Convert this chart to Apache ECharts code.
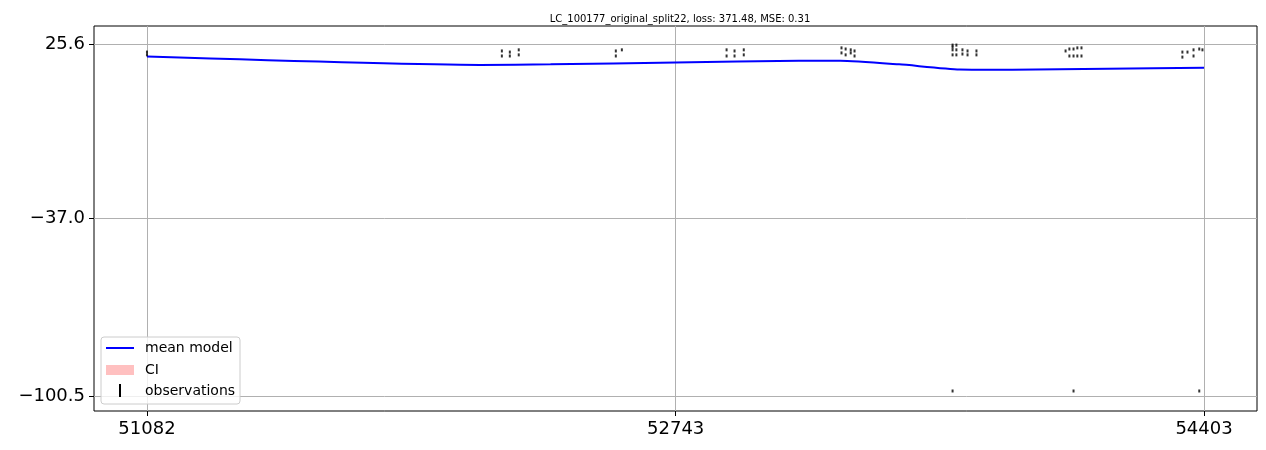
<!DOCTYPE html>
<html>
<head>
<meta charset="utf-8">
<script src="https://cdn.jsdelivr.net/npm/echarts@6/dist/echarts.min.js"></script>
<style>
  html, body { margin: 0; padding: 0; background: #fff; }
  #chart { width: 1266px; height: 450px; }
</style>
</head>
<body>
<div id="chart"></div>
<script>
// mean model curve
const meanX = [51082, 52128, 52350, 52743, 53130, 53260, 53445, 53635, 53800, 54100, 54403]
const meanY = [21.1, 18.1, 18.3, 19.0, 19.6, 19.6, 18.3, 16.5, 16.4, 16.7, 17.1]
// confidence band (very narrow)
const ciLow = [20.8, 17.8, 18.0, 18.7, 19.3, 19.3, 18.0, 16.2, 16.1, 16.4, 16.8]
const ciHigh = [21.4, 18.4, 18.6, 19.3, 19.9, 19.9, 18.6, 16.8, 16.7, 17.0, 17.4]

// observations
const obsX = [51082, 51082,
  52197, 52197, 52222, 52222, 52250, 52250,
  52555, 52555, 52574,
  52903, 52903, 52928, 52928, 52957, 52957,
  53264, 53264, 53277, 53277, 53293, 53293, 53305, 53305,
  53613, 53613, 53613, 53613, 53625, 53625, 53625, 53644, 53644, 53660, 53660, 53688, 53688,
  53968, 53980, 53980, 53993, 53993, 54005, 54005, 54018, 54018,
  54335, 54335, 54351, 54370, 54370, 54388, 54398,
  53613, 53993, 54388]
const obsY = [22.7, 21.7,
  23.1, 21.3, 22.7, 21.3, 23.5, 21.7,
  23.1, 21.3, 23.5,
  23.5, 21.3, 23.1, 21.3, 23.5, 21.7,
  24.2, 22.4, 23.8, 21.7, 23.5, 22.4, 23.1, 21.3,
  25.2, 24.5, 23.5, 21.7, 25.2, 23.5, 21.7, 23.5, 22.0, 23.1, 21.7, 23.1, 21.7,
  23.1, 23.8, 21.3, 23.8, 21.3, 24.2, 21.3, 24.2, 21.3,
  22.7, 20.9, 22.7, 23.5, 21.3, 23.8, 23.5,
  -98.7, -98.7, -98.7]

// axis ticks
const xTicks = [51082, 52743, 54403]
const yTicks = [25.6, -37.0, -100.5]

const title = 'LC_100177_original_split22, loss: 371.48, MSE: 0.31'

const chart = echarts.init(document.getElementById('chart'))

const zip = (a, b) => a.map((v, i) => [v, b[i]])
const fmtY = v => {
  const s = Math.abs(v).toFixed(1)
  return v < 0 ? '\u2212' + s : s
}

const option = {
  animation: false,
  textStyle: { fontFamily: 'DejaVu Sans' },
  title: {
    text: title,
    left: 675,
    top: 9,
    textAlign: 'center',
    textStyle: { fontSize: 10, fontWeight: 'normal', color: '#000', fontFamily: 'DejaVu Sans' }
  },
  grid: {
    left: 94,
    right: 9,
    top: 26,
    bottom: 39,
    show: true,
    borderColor: '#000',
    borderWidth: 1
  },
  xAxis: {
    type: 'value',
    min: 50915.6,
    max: 54569.4,
    axisLine: { show: false, onZero: false },
    axisTick: { show: true, customValues: xTicks, length: 5, lineStyle: { color: '#000' } },
    axisLabel: {
      customValues: xTicks,
      formatter: v => String(v),
      color: '#000',
      fontSize: 18,
      margin: 9,
      fontFamily: 'DejaVu Sans'
    },
    splitLine: { show: true, lineStyle: { color: '#b0b0b0', width: 1 } }
  },
  yAxis: {
    type: 'value',
    min: -105.87,
    max: 32.04,
    axisLine: { show: false, onZero: false },
    axisTick: { show: true, customValues: yTicks, length: 5, lineStyle: { color: '#000' } },
    axisLabel: {
      customValues: yTicks,
      formatter: fmtY,
      color: '#000',
      fontSize: 18,
      margin: 9,
      fontFamily: 'DejaVu Sans'
    },
    splitLine: { show: true, lineStyle: { color: '#b0b0b0', width: 1 } }
  },
  series: [
    {
      name: 'ci-base',
      type: 'line',
      data: zip(meanX, ciLow),
      stack: 'ci',
      symbol: 'none',
      smooth: 0.2,
      lineStyle: { opacity: 0 },
      silent: true
    },
    {
      name: 'CI',
      type: 'line',
      data: zip(meanX, ciHigh.map((v, i) => v - ciLow[i])),
      stack: 'ci',
      symbol: 'none',
      smooth: 0.2,
      lineStyle: { opacity: 0 },
      areaStyle: { color: 'rgba(255,150,150,0.6)' },
      silent: true
    },
    {
      name: 'mean model',
      type: 'line',
      data: zip(meanX, meanY),
      symbol: 'none',
      smooth: 0.2,
      lineStyle: { color: '#0000ff', width: 2 },
      z: 3
    },
    {
      name: 'observations',
      type: 'scatter',
      data: zip(obsX, obsY),
      symbol: 'rect',
      symbolSize: [2, 3],
      itemStyle: { color: '#000' },
      z: 4
    }
  ],
  graphic: [
    {
      type: 'rect',
      shape: { x: 101, y: 337, width: 139, height: 67, r: 3 },
      style: { fill: 'rgba(255,255,255,0.8)', stroke: '#cccccc', lineWidth: 1 },
      z: 10
    },
    {
      type: 'line',
      shape: { x1: 106, y1: 348, x2: 134, y2: 348 },
      style: { stroke: '#0000ff', lineWidth: 2 },
      z: 11
    },
    {
      type: 'rect',
      shape: { x: 106, y: 365, width: 28, height: 10 },
      style: { fill: 'rgba(255,150,150,0.6)' },
      z: 11
    },
    {
      type: 'line',
      shape: { x1: 120, y1: 384, x2: 120, y2: 397 },
      style: { stroke: '#000', lineWidth: 2 },
      z: 11
    },
    {
      type: 'text',
      x: 145, y: 348,
      style: { text: 'mean model', fill: '#000', font: '14px DejaVu Sans', textVerticalAlign: 'middle' },
      z: 11
    },
    {
      type: 'text',
      x: 145, y: 370,
      style: { text: 'CI', fill: '#000', font: '14px DejaVu Sans', textVerticalAlign: 'middle' },
      z: 11
    },
    {
      type: 'text',
      x: 145, y: 391,
      style: { text: 'observations', fill: '#000', font: '14px DejaVu Sans', textVerticalAlign: 'middle' },
      z: 11
    }
  ]
}

chart.setOption(option)
</script>
</body>
</html>
